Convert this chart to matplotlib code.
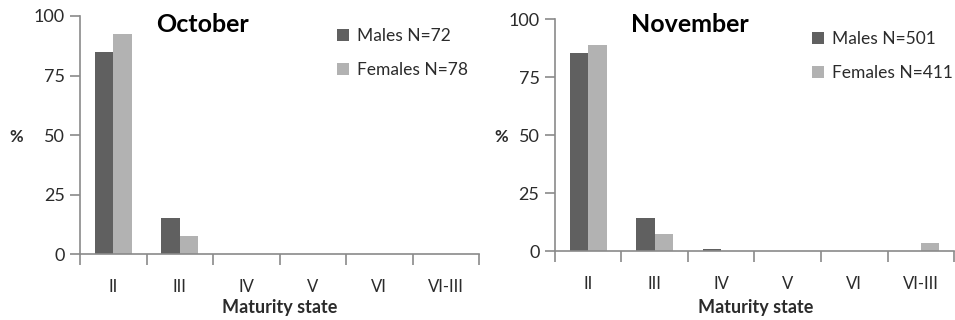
import matplotlib.pyplot as plt
import numpy as np
from matplotlib.patches import Patch

plt.rcParams['font.family'] = ['Lato', 'DejaVu Sans']

stages = ["II", "III", "IV", "V", "VI", "VI-III"]

oct_males = [85, 15, 0, 0, 0, 0]
oct_females = [92.3, 7.6, 0, 0, 0, 0]
nov_males = [85.2, 14.1, 1.0, 0, 0, 0]
nov_females = [88.8, 7.2, 0, 0, 0, 3.3]

panels = [
    ("October", oct_males, oct_females, "Males N=72", "Females N=78"),
    ("November", nov_males, nov_females, "Males N=501", "Females N=411"),
]

dark = "#606060"
light = "#b2b2b2"
axis_col = "#8a8a8a"
txt = "#2b2b2b"

fig = plt.figure(figsize=(9.55, 3.2), dpi=100)
boxes = [(0.0838, 0.206, 0.4178, 0.744), (0.581, 0.2156, 0.418, 0.725)]
title_pos = [(0.308, 0.965), (0.338, 0.975)]
pct_pos = [(16 / 955, 1 - 137 / 320), (501 / 955, 1 - 137 / 320)]
xlab_pos = [(280 / 955, 1 - 308 / 320), (756 / 955, 1 - 307 / 320)]

x = np.arange(len(stages))
w = 0.278

for i, (title, males, females, lm, lf) in enumerate(panels):
    ax = fig.add_axes(boxes[i])
    ax.bar(x - w / 2, males, width=w, color=dark)
    ax.bar(x + w / 2, females, width=w, color=light)
    ax.set_xlim(-0.5, len(stages) - 0.5)
    ax.set_ylim(0, 100)
    ax.set_yticks([0, 25, 50, 75, 100])
    ax.set_xticks(x)
    ax.set_xticklabels(stages)
    ax.set_xticks(np.arange(-0.5, len(stages)), minor=True)
    ax.tick_params(axis="x", which="major", length=0, pad=18, labelsize=12, labelcolor=txt)
    ax.tick_params(axis="x", which="minor", length=8, width=1.2, color=axis_col, direction="out")
    ax.tick_params(axis="y", length=7, width=1.2, color=axis_col, pad=4, labelsize=13, labelcolor=txt)
    for s in ["top", "right"]:
        ax.spines[s].set_visible(False)
    for s in ["left", "bottom"]:
        ax.spines[s].set_color(axis_col)
        ax.spines[s].set_linewidth(1.2)

    ax.text(title_pos[i][0], title_pos[i][1], title, transform=ax.transAxes,
            ha="center", va="center", fontsize=18, fontweight="bold", color="black")

    handles = [Patch(facecolor=dark, label=lm), Patch(facecolor=light, label=lf)]
    ax.legend(handles=handles, loc="upper left", bbox_to_anchor=(0.605, 1.015),
              frameon=False, fontsize=12.5, handlelength=0.7, handleheight=0.7,
              handletextpad=0.45, labelspacing=1.05, labelcolor=txt)

    fig.text(pct_pos[i][0], pct_pos[i][1], "%", ha="center", va="center",
             fontsize=12, fontweight="bold", color=txt)
    fig.text(xlab_pos[i][0], xlab_pos[i][1], "Maturity state", ha="center", va="center",
             fontsize=13, fontweight="bold", color=txt)

fig.savefig("out.png", dpi=100)
